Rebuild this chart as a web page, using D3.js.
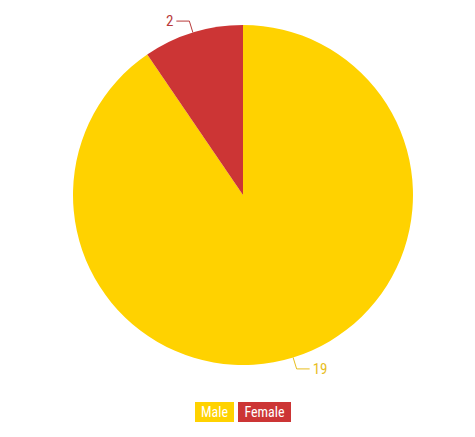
<!DOCTYPE html>
<html><head><meta charset="utf-8">
<script src="https://cdn.jsdelivr.net/npm/d3@7"></script>
<style>body{margin:0;background:#fff}svg{display:block}</style>
</head><body>
<svg id="c" width="475" height="437"></svg>
<script>
const categories = ["Male", "Female"];
const values = [19, 2];
const colors = ["#FFD200", "#CC3535"];
const labelColors = ["#E8BE1E", "#B83A3A"];

const svg = d3.select("#c");
const cx = 243, cy = 195, r = 170;
const g = svg.append("g").attr("transform", `translate(${cx},${cy})`);
const data = categories.map((c, i) => ({cat: c, val: values[i], i}));
const pie = d3.pie().value(d => d.val).sort(null);
const arc = d3.arc().innerRadius(0).outerRadius(r);
const arcs = pie(data);
g.selectAll("path.slice").data(arcs).join("path")
  .attr("d", arc).attr("fill", d => colors[d.data.i]);

const font = "'Liberation Sans Narrow','Roboto Condensed','DejaVu Sans Condensed',sans-serif";
arcs.forEach(d => {
  const a = (d.startAngle + d.endAngle) / 2;
  const p0 = [r * Math.sin(a), -r * Math.cos(a)];
  const p1 = [(r + 12) * Math.sin(a), -(r + 12) * Math.cos(a)];
  const right = Math.sin(a) >= 0;
  const p2 = [p1[0] + (right ? 13 : -13), p1[1]];
  g.append("polyline").attr("points", [p0, p1, p2].map(p => p.join(",")).join(" "))
    .attr("fill", "none").attr("stroke", labelColors[d.data.i]).attr("stroke-width", 1);
  g.append("text").attr("x", p2[0] + (right ? 3 : -3)).attr("y", p2[1])
    .attr("dy", "0.35em").attr("text-anchor", right ? "start" : "end")
    .attr("font-family", font).attr("font-size", 15)
    .attr("fill", labelColors[d.data.i]).text(d.data.val);
});

// legend
const lg = svg.append("g");
const boxes = [{x: 195, w: 39}, {x: 238, w: 53}];
categories.forEach((c, i) => {
  lg.append("rect").attr("x", boxes[i].x).attr("y", 402).attr("width", boxes[i].w).attr("height", 20)
    .attr("fill", colors[i]);
  lg.append("text").attr("x", boxes[i].x + boxes[i].w / 2).attr("y", 412).attr("dy", "0.35em")
    .attr("text-anchor", "middle").attr("font-family", font).attr("font-size", 14)
    .attr("fill", "#fff").text(c);
});
</script>
</body></html>
